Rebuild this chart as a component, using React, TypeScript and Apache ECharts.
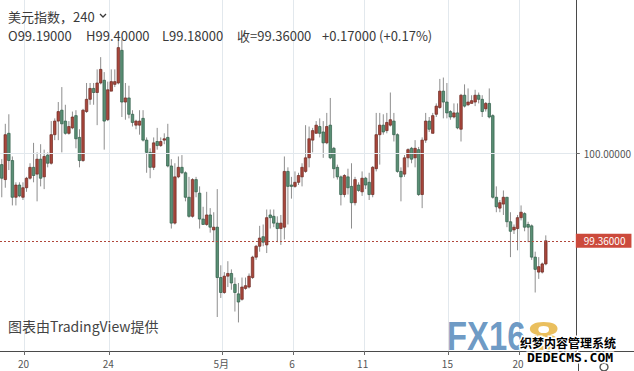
import React, { useEffect, useRef } from "react";
import * as echarts from "echarts";

// ---- data ----
const symbolName = "美元指数";
const intervalLabel = "240";
const closeWord = "收";
const dayLabels = ["20", "24", "5月", "6", "11", "15", "20"];
// bar index at which each labelled day starts
const dayStartBar = [7, 31, 63, 83, 103, 127, 147];
const gridPrice = 100;
// [open, close, low, high] for each 4h bar
const candles: number[][] = [
  [99.92, 99.82, 99.68, 99.96], [99.81, 100.14, 99.75, 100.22], [100.15, 99.95, 99.88, 100.29], [99.95, 99.68, 99.62, 99.98],
  [99.68, 99.77, 99.62, 99.79], [99.77, 99.69, 99.68, 99.79], [99.68, 99.75, 99.66, 99.79], [99.75, 99.82, 99.72, 99.83],
  [99.82, 99.90, 99.81, 99.93], [99.90, 99.84, 99.79, 100.08], [99.85, 99.96, 99.65, 100.01], [99.96, 99.82, 99.76, 100.07],
  [99.83, 99.98, 99.74, 100.03], [99.99, 99.93, 99.90, 100.01], [99.93, 100.14, 99.92, 100.24], [100.14, 100.24, 100.10, 100.26],
  [100.24, 100.31, 100.10, 100.38], [100.32, 100.22, 100.01, 100.49], [100.24, 100.15, 100.14, 100.36], [100.15, 100.20, 100.14, 100.24],
  [100.19, 100.27, 100.18, 100.31], [100.28, 100.11, 100.04, 100.32], [100.12, 99.95, 99.90, 100.18], [99.95, 100.32, 99.94, 100.33],
  [100.31, 100.40, 100.30, 100.52], [100.40, 100.48, 100.36, 100.52], [100.48, 100.45, 100.36, 100.52], [100.45, 100.52, 100.21, 100.62],
  [100.52, 100.62, 100.51, 100.71], [100.54, 100.24, 100.03, 100.60], [100.25, 100.47, 100.24, 100.53], [100.46, 100.53, 100.46, 100.62],
  [100.51, 100.53, 100.49, 100.62], [100.52, 100.78, 100.51, 100.84], [100.76, 100.38, 100.27, 100.84], [100.38, 100.41, 100.25, 100.52],
  [100.41, 100.29, 100.26, 100.50], [100.29, 100.23, 100.20, 100.32], [100.21, 100.24, 100.18, 100.25], [100.21, 100.24, 100.14, 100.32],
  [100.26, 100.10, 100.09, 100.32], [100.10, 100.01, 99.86, 100.12], [100.01, 99.90, 99.82, 100.04], [99.90, 100.08, 99.88, 100.12],
  [100.09, 100.06, 100.03, 100.19], [100.06, 100.09, 100.05, 100.12], [100.10, 100.11, 100.07, 100.15], [100.12, 99.91, 99.90, 100.22],
  [99.91, 99.49, 99.45, 99.96], [99.49, 99.83, 99.48, 99.93], [99.83, 99.90, 99.82, 99.98], [99.90, 99.86, 99.85, 99.99],
  [99.86, 99.68, 99.65, 99.87], [99.68, 99.54, 99.53, 99.83], [99.54, 99.81, 99.53, 99.82], [99.81, 99.72, 99.68, 99.83],
  [99.71, 99.52, 99.45, 99.76], [99.52, 99.48, 99.48, 99.61], [99.48, 99.55, 99.47, 99.72], [99.55, 99.46, 99.42, 99.60],
  [99.44, 99.46, 99.35, 99.57], [99.46, 99.09, 98.80, 99.74], [99.09, 98.98, 98.94, 99.18], [98.98, 99.10, 98.97, 99.13],
  [99.10, 99.12, 99.02, 99.21], [99.12, 99.05, 99.00, 99.15], [99.04, 98.98, 98.84, 99.09], [98.97, 98.91, 98.76, 99.05],
  [98.93, 99.02, 98.92, 99.09], [99.01, 99.03, 99.00, 99.09], [99.02, 99.10, 99.01, 99.12], [99.09, 99.24, 99.08, 99.25],
  [99.24, 99.32, 99.22, 99.33], [99.32, 99.38, 99.28, 99.47], [99.39, 99.35, 99.32, 99.48], [99.33, 99.53, 99.27, 99.59],
  [99.55, 99.53, 99.45, 99.59], [99.54, 99.49, 99.46, 99.59], [99.49, 99.45, 99.35, 99.54], [99.45, 99.49, 99.33, 99.55],
  [99.46, 99.87, 99.37, 99.98], [99.87, 99.76, 99.48, 99.90], [99.77, 99.76, 99.67, 99.83], [99.76, 99.79, 99.75, 99.87],
  [99.79, 99.84, 99.77, 99.86], [99.83, 99.90, 99.76, 99.93], [99.87, 99.97, 99.86, 100.21], [99.97, 100.11, 99.90, 100.20],
  [100.10, 100.17, 100.01, 100.19], [100.15, 100.21, 100.15, 100.24], [100.20, 100.15, 100.12, 100.26], [100.16, 100.08, 99.97, 100.24],
  [100.08, 100.20, 100.07, 100.30], [100.21, 99.97, 99.96, 100.41], [100.04, 99.89, 99.82, 100.05], [99.90, 99.83, 99.81, 99.92],
  [99.83, 99.70, 99.62, 99.84], [99.70, 99.84, 99.68, 99.85], [99.83, 99.75, 99.70, 99.89], [99.76, 99.64, 99.45, 99.93],
  [99.64, 99.81, 99.62, 99.83], [99.77, 99.73, 99.72, 99.79], [99.72, 99.82, 99.69, 99.87], [99.82, 99.77, 99.74, 99.83],
  [99.79, 99.70, 99.66, 99.86], [99.70, 99.90, 99.68, 99.91], [99.89, 100.14, 99.87, 100.30], [100.14, 100.21, 99.92, 100.30],
  [100.21, 100.16, 100.14, 100.29], [100.17, 100.23, 100.15, 100.30], [100.21, 100.25, 100.20, 100.45], [100.24, 100.14, 100.09, 100.30],
  [100.14, 99.87, 99.86, 100.15], [99.87, 99.83, 99.65, 99.90], [99.85, 99.97, 99.83, 99.99], [99.97, 100.03, 99.90, 100.04],
  [100.04, 99.96, 99.93, 100.05], [99.97, 100.04, 99.90, 100.10], [100.03, 99.70, 99.69, 100.05], [99.70, 100.10, 99.60, 100.12],
  [100.10, 100.24, 100.08, 100.30], [100.24, 100.18, 100.16, 100.27], [100.15, 100.28, 100.15, 100.30], [100.29, 100.35, 100.27, 100.37],
  [100.34, 100.46, 100.33, 100.55], [100.46, 100.38, 100.26, 100.56], [100.38, 100.30, 100.26, 100.52], [100.31, 100.27, 100.25, 100.32],
  [100.27, 100.30, 100.26, 100.37], [100.30, 100.19, 100.18, 100.37], [100.18, 100.43, 100.09, 100.44], [100.43, 100.35, 100.34, 100.51],
  [100.36, 100.38, 100.35, 100.48], [100.37, 100.39, 100.37, 100.43], [100.38, 100.43, 100.35, 100.47], [100.43, 100.40, 100.37, 100.45],
  [100.40, 100.31, 100.27, 100.43], [100.33, 100.37, 100.31, 100.38], [100.37, 100.27, 100.26, 100.48], [100.28, 99.68, 99.67, 100.29],
  [99.68, 99.61, 99.57, 99.76], [99.60, 99.64, 99.57, 99.66], [99.63, 99.68, 99.55, 99.73], [99.68, 99.50, 99.46, 99.68],
  [99.50, 99.43, 99.24, 99.57], [99.44, 99.46, 99.41, 99.48], [99.45, 99.53, 99.29, 99.55], [99.53, 99.57, 99.51, 99.62],
  [99.56, 99.46, 99.43, 99.57], [99.48, 99.46, 99.35, 99.50], [99.47, 99.24, 99.22, 99.48], [99.24, 99.15, 98.98, 99.28],
  [99.13, 99.17, 99.08, 99.24], [99.13, 99.19, 99.12, 99.20], [99.19, 99.36, 99.18, 99.40],
];

const W = 634;
const H = 371;

export default function App() {
  const ref = useRef<HTMLDivElement>(null);

  useEffect(() => {
    if (!ref.current) return;
    const chart = echarts.init(ref.current, null, { renderer: "svg" });

    const slotCount = 163;
    const categories = Array.from({ length: slotCount }, (_, i) => {
      const k = dayStartBar.indexOf(i);
      return k >= 0 ? dayLabels[k] : "";
    });
    const isDay = (_i: number, v: string) => v !== "";
    const seriesData = candles.map((c, i) => [i, c[0], c[1], c[2], c[3]]);
    const last = candles[candles.length - 1];
    const prev = candles[candles.length - 2];
    const change = last[1] - prev[1];
    const pct = (change / prev[1]) * 100;
    const sign = change >= 0 ? "+" : "-";

    const fontCJK = '"Noto Sans CJK SC", "Noto Sans", sans-serif';
    const hdrFont = `13px ${fontCJK}`;
    const hdrColor = "#3a3a3a";

    const option: any = {
      animation: false,
      backgroundColor: "#ffffff",
      textStyle: { fontFamily: fontCJK },
      grid: { left: 0, right: 56, top: 0, bottom: 20, containLabel: false },
      xAxis: {
        type: "category",
        data: categories,
        boundaryGap: true,
        axisLine: { lineStyle: { color: "#4a4a4a", width: 1 } },
        axisTick: { show: true, interval: isDay, length: 4, lineStyle: { color: "#6a6a6a" } },
        axisLabel: {
          interval: isDay,
          color: "#555",
          fontSize: 10,
          margin: 7,
          padding: [0, 6, 0, 0],
        },
        splitLine: { show: true, interval: isDay, lineStyle: { color: "#e2e8ed", width: 1 } },
      },
      yAxis: {
        type: "value",
        position: "right",
        min: 98.55,
        max: 101.13,
        scale: true,
        splitLine: { show: false },
        axisLine: { show: true, lineStyle: { color: "#4a4a4a", width: 1 } },
        axisTick: { show: true, customValues: [gridPrice], length: 4, lineStyle: { color: "#6a6a6a" } },
        axisLabel: {
          customValues: [gridPrice],
          formatter: (v: number) => v.toFixed(5),
          color: "#555",
          fontSize: 10,
          margin: 8,
        },
      },
      series: [
        {
          type: "line",
          data: [],
          silent: true,
          z: 1,
          markLine: {
            silent: true,
            symbol: ["none", "none"],
            animation: false,
            data: [
              {
                yAxis: gridPrice,
                lineStyle: { color: "#e2e8ed", type: "solid", width: 1 },
                label: { show: false },
              },
            ],
          },
        },
        {
          type: "custom",
          z: 3,
          data: seriesData,
          encode: { x: 0, y: [1, 2, 3, 4] },
          renderItem: (_params: any, api: any) => {
            const idx = api.value(0);
            const o = api.value(1);
            const c = api.value(2);
            const l = api.value(3);
            const h = api.value(4);
            const pO = api.coord([idx, o]);
            const pC = api.coord([idx, c]);
            const pL = api.coord([idx, l]);
            const pH = api.coord([idx, h]);
            const bw = api.size([1, 0])[0] * 0.72;
            const up = c >= o;
            const top = Math.min(pO[1], pC[1]);
            const hgt = Math.max(Math.abs(pO[1] - pC[1]), 1);
            return {
              type: "group",
              children: [
                {
                  type: "line",
                  shape: { x1: pH[0], y1: pH[1], x2: pL[0], y2: pL[1] },
                  style: { stroke: "#8e8e8e", lineWidth: 1 },
                },
                {
                  type: "rect",
                  shape: { x: pO[0] - bw / 2, y: top, width: bw, height: hgt },
                  style: {
                    fill: up ? "#a8463b" : "#5a8f75",
                    stroke: up ? "#6c2a22" : "#2f5d47",
                    lineWidth: 0.7,
                  },
                },
              ],
            };
          },
        },
        {
          type: "line",
          data: [],
          silent: true,
          z: 4,
          markLine: {
            silent: true,
            symbol: ["none", "none"],
            animation: false,
            data: [
              {
                yAxis: last[1],
                lineStyle: { color: "#b0473b", type: [2, 2], width: 1 },
                label: {
                  show: true,
                  position: "end",
                  distance: 0,
                  formatter: last[1].toFixed(5),
                  color: "#ffffff",
                  backgroundColor: "#cc4a3c",
                  fontSize: 10,
                  padding: [2, 6, 2, 8],
                  fontFamily: fontCJK,
                },
              },
            ],
          },
        },
      ],
      graphic: [
        // header
        {
          type: "text",
          x: 8,
          y: 16,
          style: { text: `${symbolName}，${intervalLabel}`, font: hdrFont, fill: hdrColor, verticalAlign: "middle" },
          z: 10,
        },
        {
          type: "polyline",
          shape: { points: [[100, 14], [103, 17], [106, 14]] },
          style: { stroke: hdrColor, lineWidth: 1.3, fill: null },
          z: 10,
        },
        { type: "text", x: 8, y: 35, style: { text: `O${last[0].toFixed(5)}`, font: hdrFont, fill: hdrColor, verticalAlign: "middle" }, z: 10 },
        { type: "text", x: 86, y: 35, style: { text: `H${last[3].toFixed(5)}`, font: hdrFont, fill: hdrColor, verticalAlign: "middle" }, z: 10 },
        { type: "text", x: 162, y: 35, style: { text: `L${last[2].toFixed(5)}`, font: hdrFont, fill: hdrColor, verticalAlign: "middle" }, z: 10 },
        { type: "text", x: 237, y: 35, style: { text: `${closeWord}=${last[1].toFixed(5)}`, font: hdrFont, fill: hdrColor, verticalAlign: "middle" }, z: 10 },
        {
          type: "text",
          x: 322,
          y: 35,
          style: {
            text: `${sign}${Math.abs(change).toFixed(5)} (${sign}${Math.abs(pct).toFixed(2)}%)`,
            font: hdrFont,
            fill: hdrColor,
            verticalAlign: "middle",
          },
          z: 10,
        },
        // provider note
        {
          type: "text",
          x: 8,
          y: 326,
          style: { text: "图表由TradingView提供", font: `14px ${fontCJK}`, fill: "#444", verticalAlign: "middle" },
          z: 10,
        },
        // FX168 logo
        {
          type: "text",
          x: 447,
          y: 336,
          scaleX: 0.82,
          style: { text: "FX16", font: 'bold 40px "Liberation Sans", sans-serif', fill: "#5b8dbd", verticalAlign: "middle", opacity: 0.9 },
          z: 5,
        },
        {
          type: "text",
          x: 527,
          y: 336,
          scaleX: 1.5,
          style: { text: "8", font: 'bold 40px "Liberation Sans", sans-serif', fill: "#e8b84c", verticalAlign: "middle", opacity: 0.9 },
          z: 5,
        },
        // axis extensions
        { type: "line", shape: { x1: 578, y1: 351.5, x2: W, y2: 351.5 }, style: { stroke: "#4a4a4a", lineWidth: 1 }, z: 6 },
        { type: "line", shape: { x1: 578.5, y1: 351, x2: 578.5, y2: H }, style: { stroke: "#4a4a4a", lineWidth: 1 }, z: 6 },
        // settings icon
        { type: "circle", shape: { cx: 604, cy: 367, r: 4 }, style: { stroke: "#555", lineWidth: 1.4, fill: "#fff" }, z: 7 },
        // site watermark
        {
          type: "text",
          x: 520,
          y: 342,
          style: {
            text: "织梦内容管理系统",
            font: `bold 12px ${fontCJK}`,
            fill: "#000",
            stroke: "#fff",
            lineWidth: 3,
            strokeFirst: true,
            verticalAlign: "middle",
          },
          z: 9,
        },
        {
          type: "text",
          x: 527,
          y: 357,
          style: {
            text: "DEDECMS.COM",
            font: 'bold 13px "DejaVu Sans Mono", monospace',
            fill: "#000",
            stroke: "#fff",
            lineWidth: 3,
            strokeFirst: true,
            verticalAlign: "middle",
          },
          z: 9,
        },
      ],
    };

    chart.setOption(option);
    return () => chart.dispose();
  }, []);

  return <div ref={ref} style={{ position: "absolute", left: 0, top: 0, width: W, height: H }} />;
}
